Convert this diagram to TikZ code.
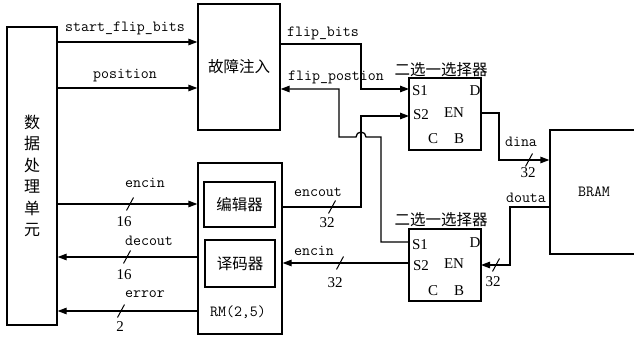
\documentclass[tikz,border=0pt]{standalone}
\usepackage{fontspec}
\setmainfont{Liberation Serif}
\newfontfamily\cjk{Noto Sans CJK SC}
\usetikzlibrary{arrows.meta,calc}

\begin{document}
\begin{tikzpicture}[x=1pt,y=-1pt,
    wire/.style={line width=1.3pt},
    sig/.style={wire,-{Triangle[length=9pt,width=6.5pt]}},
    box/.style={draw,line width=1.3pt,inner sep=0pt},
    lab/.style={font=\ttfamily\fontsize{15.5}{16}\selectfont},
    num/.style={font=\fontsize{15}{16}\selectfont},
    zh/.style={font=\cjk\fontsize{15.5}{16}\selectfont},
    bus/.pic={\draw[line width=1pt] (-3.5,6.5) -- (3.5,-6.5);}]
    \useasboundingbox (0,0) rectangle (634,339);
    % blocks
    \node[box,minimum width=50pt,minimum height=298pt,align=center,
          font=\cjk\fontsize{16}{21.5}\selectfont] (P) at (32,176) {数\\据\\处\\理\\单\\元};
    \node[box,zh,minimum width=82pt,minimum height=126pt] (F) at (239,67) {故障注入};
    \node[box,minimum width=84pt,minimum height=171pt] (R) at (240,248.5) {};
    \node[box,zh,minimum width=71pt,minimum height=45pt] (E) at (239.5,204.5) {编辑器};
    \node[box,zh,minimum width=70pt,minimum height=47pt] (D) at (240,263.5) {译码器};
    \node[lab] (RL) at (238,312) {RM(2,5)};
    \node[box,minimum width=72pt,minimum height=72pt] (M1) at (445,114) {};
    \node[box,minimum width=72pt,minimum height=72pt] (M2) at (445,265) {};
    \node[box,lab,minimum width=88pt,minimum height=124pt] (B) at (594,192) {BRAM};
    \node[zh] (T1) at (441,70) {二选一选择器};
    \node[zh] (T2) at (441,220) {二选一选择器};
    % mux pins
    \node[num] (M1s1) at (420,91) {S1};
    \node[num] (M1s2) at (421,115) {S2};
    \node[num] (M1d) at (475,91) {D};
    \node[num] (M1en) at (454,113) {EN};
    \node[num] (M1c) at (433,139) {C};
    \node[num] (M1b) at (459,139) {B};
    \node[num] (M2s1) at (420,245) {S1};
    \node[num] (M2s2) at (421,266) {S2};
    \node[num] (M2d) at (475,243) {D};
    \node[num] (M2en) at (454,264) {EN};
    \node[num] (M2c) at (433,291) {C};
    \node[num] (M2b) at (459,291) {B};
    % wire points
    \coordinate (Y1) at (0,42);
    \coordinate (Y2) at (0,88);
    \coordinate (Y3) at (0,204);
    \coordinate (Y4) at (0,257);
    \coordinate (Y5) at (0,311);
    \coordinate (A1) at (409,89);
    \coordinate (A2) at (409,116);
    \coordinate (Q1) at (481,113);
    \coordinate (A3) at (409,242);
    \coordinate (A4) at (409,263);
    \coordinate (Q2) at (481,265);
    \coordinate (C1) at (361,44);
    \coordinate (C2) at (381,137);
    \coordinate (C3) at (339,89);
    \coordinate (H) at (361,137);
    \coordinate (C4) at (361,207);
    \coordinate (C5) at (499,160);
    \coordinate (C6) at (510,207);
    % connectors
    \draw[sig] (P.east |- Y1) -- (F.west |- Y1);
    \draw[sig] (P.east |- Y2) -- (F.west |- Y2);
    \draw[sig] (P.east |- Y3) -- (R.west |- Y3);
    \draw[sig] (R.west |- Y4) -- (P.east |- Y4);
    \draw[sig] (R.west |- Y5) -- (P.east |- Y5);
    \draw[sig] (F.east |- C1) -- (C1) |- (A1);
    \draw[sig] (A3) -| (C2) -- ([xshift=5pt]H) arc[start angle=0,end angle=180,radius=5pt]
        -- (C3 |- C2) -- (C3) -- (F.east |- C3);
    \draw[sig] (R.east |- C4) -- (C4) |- (A2);
    \draw[sig] (A4) -- (R.east |- A4);
    \draw[sig] (Q1) -| (C5) -- (B.west |- C5);
    \draw[sig] (B.west |- C6) -- (C6) |- (Q2);
    % labels
    \node[lab] (L1) at (125,28) {start\_flip\_bits};
    \node[lab] (L2) at (125,76) {position};
    \node[lab] (L3) at (145,183) {encin};
    \node[lab] (L4) at (149,241) {decout};
    \node[lab] (L5) at (145,294) {error};
    \node[lab] (L6) at (323,33) {flip\_bits};
    \node[lab] (L7) at (336,77) {flip\_postion};
    \node[lab] (L8) at (318,192) {encout};
    \node[lab] (L9) at (314,251) {encin};
    \node[lab] (L10) at (521,142) {dina};
    \node[lab] (L11) at (526,198) {douta};
    % bus widths
    \pic at (130,204) {bus};
    \pic at (127,257) {bus};
    \pic at (121,311) {bus};
    \pic at (332,207) {bus};
    \pic at (340,263) {bus};
    \pic at (529,160) {bus};
    \pic at (496,265) {bus};
    \node[num] (W1) at (124,222) {16};
    \node[num] (W2) at (124,275) {16};
    \node[num] (W3) at (120,327) {2};
    \node[num] (W4) at (327,223) {32};
    \node[num] (W5) at (335,283) {32};
    \node[num] (W6) at (528,173) {32};
    \node[num] (W7) at (493,282) {32};
\end{tikzpicture}
\end{document}
